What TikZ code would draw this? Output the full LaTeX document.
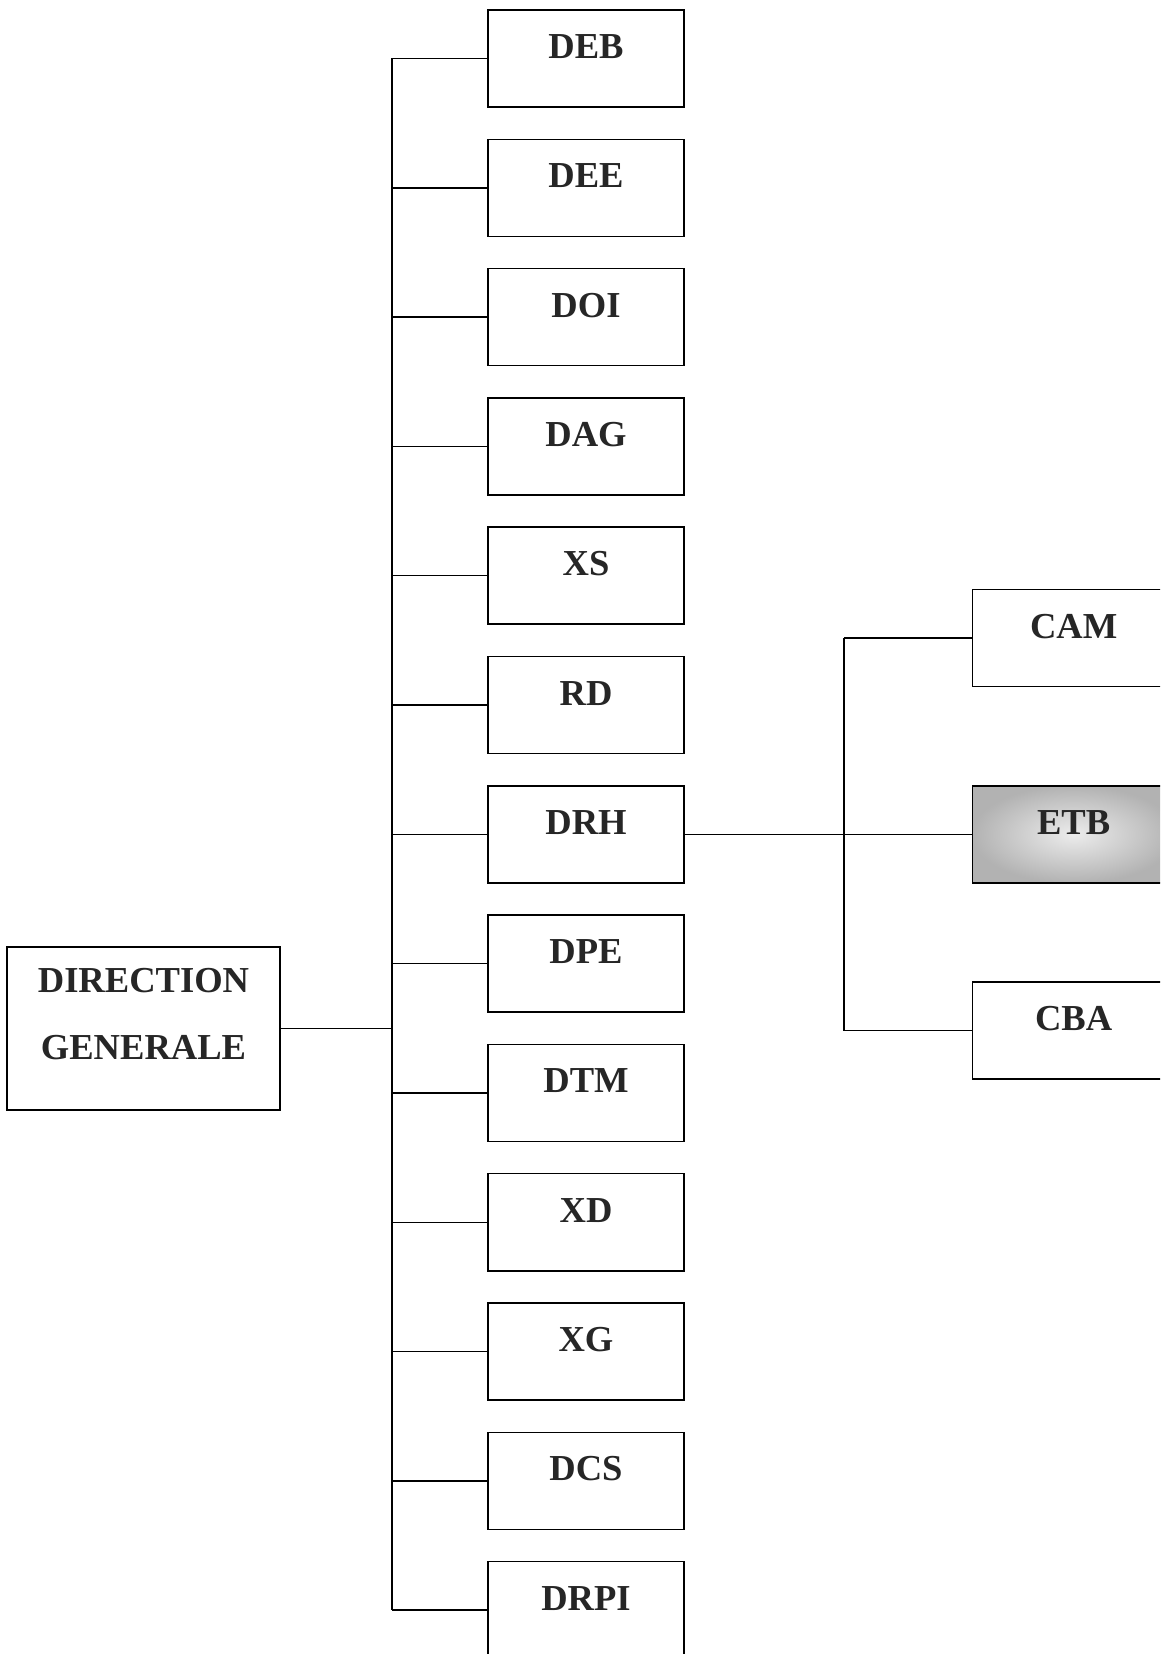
\documentclass[tikz,border=0pt]{standalone}
\usepackage{fontspec}
\setmainfont{Liberation Serif}
\usetikzlibrary{positioning}

\begin{document}
\begin{tikzpicture}[x=0.025cm, y=-0.025cm, line width=1pt,
  unit/.style={draw, line width=1.1pt, minimum width=4.9cm, minimum height=2.425cm,
    inner sep=0pt, text height=0.3cm, text depth=0.3cm, text=black!85,
    font=\fontsize{26}{30}\selectfont\bfseries},
  subunit/.style={unit, minimum width=5.05cm}]
  \clip (0,0) rectangle (1160,1654);
  \fill[white] (0,0) rectangle (1160,1654);
  % column of directions
  \foreach \name/\lab [count=\i from 0] in {deb/DEB, dee/DEE, doi/DOI, dag/DAG, xs/XS, rd/RD,
      drh/DRH, dpe/DPE, dtm/DTM, xd/XD, xg/XG, dcs/DCS, drpi/DRPI}
    \node[unit] (\name) at (586, 58.5+129.3*\i) {\lab};
  % direction generale
  \node[draw, line width=1.1pt, minimum width=6.825cm, minimum height=4.075cm, inner sep=0pt,
    align=center, text=black!85, font=\fontsize{26}{48}\selectfont\bfseries]
    (dg) at (143.5,1028.5) {DIRECTION\\GENERALE\rule[-0.725cm]{0pt}{0pt}};
  \coordinate (bus) at (392,0);
  \draw (deb.west -| bus) -- (drpi.west -| bus);
  \foreach \name in {deb, dee, doi, dag, xs, rd, drh, dpe, dtm, xd, xg, dcs, drpi}
    \draw (\name.west) -- (\name.west -| bus);
  \draw (dg.east) -- (dg.east -| bus);
  % services under DRH
  \node[subunit, shade, inner color=gray!15, outer color=gray!60, right=7.175cm of drh] (etb) {ETB};
  \node[subunit, above=2.44cm of etb] (cam) {CAM};
  \node[subunit, below=2.44cm of etb] (cba) {CBA};
  \coordinate (bus2) at (844,0);
  \draw (drh.east) -- (etb.west);
  \draw (cam.west -| bus2) -- (cba.west -| bus2);
  \draw (cam.west) -- (cam.west -| bus2);
  \draw (cba.west) -- (cba.west -| bus2);
\end{tikzpicture}
\end{document}
